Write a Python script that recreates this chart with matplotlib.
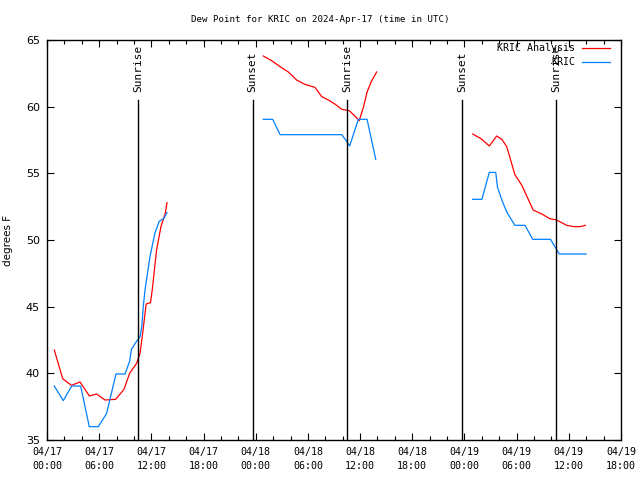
import matplotlib
matplotlib.use("Agg")
import matplotlib.pyplot as plt
import numpy as np

# hours since 2024-04-17 00:00 UTC
ana_t1 = [0.84, 1.8, 2.8, 3.8, 4.87, 5.7, 6.67, 7.9, 8.85, 9.5, 10.3, 10.7, 11.0, 11.4, 11.9, 12.1, 12.6, 13.1, 13.6, 13.8]
ana_v1 = [41.75, 39.6, 39.1, 39.35, 38.3, 38.45, 38.0, 38.05, 38.8, 40.0, 40.75, 41.5, 43.0, 45.2, 45.3, 46.25, 49.25, 51.0, 52.0, 52.8]
ana_t2 = [24.87, 25.83, 26.8, 27.75, 28.7, 29.67, 30.8, 31.6, 32.35, 33.1, 33.9, 34.75, 35.4, 35.9, 36.4, 36.8, 37.3, 37.9]
ana_v2 = [63.8, 63.45, 63.0, 62.6, 62.0, 61.67, 61.45, 60.75, 60.5, 60.2, 59.8, 59.7, 59.3, 58.95, 60.0, 61.1, 61.9, 62.6]
ana_t3 = [48.95, 49.9, 50.86, 51.7, 52.3, 52.86, 53.2, 53.8, 54.6, 55.3, 55.9, 56.9, 57.8, 58.6, 59.75, 60.6, 61.3, 61.9]
ana_v3 = [57.95, 57.6, 57.05, 57.8, 57.55, 57.0, 56.25, 54.9, 54.1, 53.1, 52.25, 51.95, 51.6, 51.5, 51.1, 51.0, 51.0, 51.1]

obs_t1 = [0.84, 1.87, 2.84, 3.87, 4.86, 5.9, 6.86, 7.93, 8.97, 9.5, 9.7, 10.3, 10.7, 10.9, 11.07, 11.27, 11.84, 12.4, 12.9, 13.4, 13.8]
obs_v1 = [39.05, 37.95, 39.05, 39.05, 36.0, 36.0, 37.0, 39.95, 39.95, 40.9, 41.8, 42.4, 42.75, 43.5, 45.0, 46.25, 48.75, 50.5, 51.4, 51.6, 52.05]
obs_t2 = [24.87, 25.95, 26.8, 33.9, 34.45, 34.8, 35.8, 36.8, 37.8]
obs_v2 = [59.05, 59.05, 57.9, 57.9, 57.4, 57.05, 59.05, 59.05, 56.05]
obs_t3 = [48.95, 50.0, 50.86, 51.6, 51.8, 52.3, 52.86, 53.8, 54.96, 55.85, 57.9, 58.9, 61.98]
obs_v3 = [53.05, 53.05, 55.07, 55.07, 53.95, 53.0, 52.1, 51.1, 51.1, 50.05, 50.05, 48.95, 48.95]

sun_t = [10.5, 23.65, 34.5, 47.7, 58.5]
sun_lbl = ["Sunrise", "Sunset", "Sunrise", "Sunset", "Sunrise"]

xtick_labels = ["04/17\n00:00", "04/17\n06:00", "04/17\n12:00", "04/17\n18:00",
                "04/18\n00:00", "04/18\n06:00", "04/18\n12:00", "04/18\n18:00",
                "04/19\n00:00", "04/19\n06:00", "04/19\n12:00", "04/19\n18:00"]

RED = "#ff0000"
BLUE = "#0080ff"
mono = "DejaVu Sans Mono"

fig = plt.figure(figsize=(6.4, 4.8), dpi=100)
ax = fig.add_axes([47/640, 40/480, (621-47)/640, 400/480])

for t, v in [(ana_t1, ana_v1), (ana_t2, ana_v2), (ana_t3, ana_v3)]:
    ax.plot(t, v, color=RED, lw=0.9)
for t, v in [(obs_t1, obs_v1), (obs_t2, obs_v2), (obs_t3, obs_v3)]:
    ax.plot(t, v, color=BLUE, lw=0.9)

for t, lbl in zip(sun_t, sun_lbl):
    ax.axvline(t, ymin=0, ymax=0.85, color="black", lw=1.0)
    ax.text(t, 0.87, lbl, rotation=90, ha="center", va="bottom",
            transform=ax.get_xaxis_transform(), family=mono, fontsize=8)

ax.set_xlim(0, 66)
ax.set_ylim(35, 65)
ax.set_xticks(np.arange(0, 67, 6))
ax.set_xticklabels(xtick_labels, family=mono, fontsize=7.2, linespacing=1.5)
ax.set_xticks(np.arange(0, 67, 2), minor=True)
ax.set_yticks(np.arange(35, 66, 5))
ax.set_yticklabels([str(v) for v in range(35, 66, 5)], fontsize=8)
ax.tick_params(which="both", direction="in", top=True, right=True)
ax.tick_params(which="major", length=5, width=0.8)
ax.tick_params(axis="x", which="major", pad=5)
ax.tick_params(axis="y", which="major", pad=5)
ax.tick_params(which="minor", length=3, width=0.8)
for s in ax.spines.values():
    s.set_linewidth(1.0)

ax.set_ylabel("degrees F", fontsize=7.5, labelpad=9)
fig.text(0.5, 1 - 20/480, "Dew Point for KRIC on 2024-Apr-17 (time in UTC)",
         ha="center", va="center", family=mono, fontsize=6.6)

# legend
for i, (lbl, c) in enumerate([("KRIC Analysis", RED), ("KRIC", BLUE)]):
    y = 1 - (8 + 14*i)/400
    ax.text((575-47)/574, y, lbl, ha="right", va="center",
            transform=ax.transAxes, family=mono, fontsize=7.2)
    ax.plot([(582-47)/574, (610-47)/574], [y, y], color=c, lw=0.9,
            transform=ax.transAxes, clip_on=False)

fig.savefig("out.png", dpi=100)
